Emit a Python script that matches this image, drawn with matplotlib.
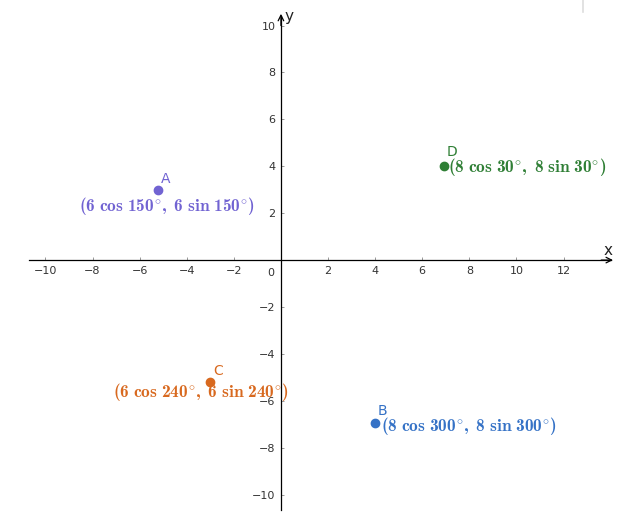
import matplotlib.pyplot as plt

plt.rcParams['mathtext.fontset'] = 'custom'
plt.rcParams['mathtext.rm'] = 'cmb10'
plt.rcParams['mathtext.bf'] = 'cmb10'
plt.rcParams['mathtext.it'] = 'cmb10'
plt.rcParams['mathtext.fallback'] = 'cm'

# points
names = ['A', 'B', 'C', 'D']
xs = [-5.2, 4.0, -3.0, 6.93]
ys = [3.0, -6.93, -5.2, 4.0]
labels = [r'$\mathrm{(6\ cos\ 150^{\circ},\ 6\ sin\ 150^{\circ})}$',
          r'$\mathrm{(8\ cos\ 300^{\circ},\ 8\ sin\ 300^{\circ})}$',
          r'$\mathrm{(6\ cos\ 240^{\circ},\ 6\ sin\ 240^{\circ})}$',
          r'$\mathrm{(8\ cos\ 30^{\circ},\ 8\ sin\ 30^{\circ})}$']
colors = ['#7163d2', '#3572c6', '#d8691f', '#2f7f35']
# label offsets in pixels (letter, coordinate text)
name_off = [(7, 11), (7, 12), (8, 11), (8, 14)]
label_off = [(-79, -16), (6, -3), (-97, -10), (4, -1)]

xticks = [-10, -8, -6, -4, -2, 2, 4, 6, 8, 10, 12]
yticks = [-10, -8, -6, -4, -2, 2, 4, 6, 8, 10]

fig = plt.figure(figsize=(6.21, 5.15), dpi=100)
ax = fig.add_axes([0, 0, 1, 1])
ax.set_xlim(-11.93, 14.44)
ax.set_ylim(-10.87, 11.09)

for side in ['top', 'right']:
    ax.spines[side].set_visible(False)
ax.spines['left'].set_position(('data', 0))
ax.spines['bottom'].set_position(('data', 0))
ax.spines['left'].set_bounds(-10.66, 10.4)
ax.spines['bottom'].set_bounds(-10.7, 14.0)
for side in ['left', 'bottom']:
    ax.spines[side].set_linewidth(0.9)

ax.set_xticks(xticks)
ax.set_yticks(yticks)
ax.set_xticklabels([str(t).replace('-', '\u2212') for t in xticks])
ax.set_yticklabels([str(t).replace('-', '\u2212') for t in yticks])
ax.tick_params(axis='both', direction='in', length=2, width=0.6, color='#888888',
               labelsize=8, labelcolor='#333333')
ax.tick_params(axis='x', pad=4)
ax.tick_params(axis='y', pad=4)
ax.text(-0.3, -0.35, '0', fontsize=8, color='#333333', ha='right', va='top')

# arrow heads
ax.annotate('', xy=(14.1, 0), xytext=(13.6, 0),
            arrowprops=dict(arrowstyle='->', lw=0.9, color='black', shrinkA=0, shrinkB=0))
ax.annotate('', xy=(0, 10.5), xytext=(0, 10.0),
            arrowprops=dict(arrowstyle='->', lw=0.9, color='black', shrinkA=0, shrinkB=0))
ax.text(13.9, 0.1, 'x', fontsize=11, color='#222222', ha='center', va='bottom')
ax.text(0.15, 10.4, 'y', fontsize=11, color='#222222', ha='left', va='center')

for i in range(len(names)):
    ax.plot(xs[i], ys[i], 'o', ms=6, color=colors[i], zorder=5)
    ax.annotate(names[i], (xs[i], ys[i]), xytext=name_off[i], textcoords='offset pixels',
                fontsize=10, color=colors[i], ha='center', va='center')
    ax.annotate(labels[i], (xs[i], ys[i]), xytext=label_off[i], textcoords='offset pixels',
                fontsize=12.5, color=colors[i], ha='left', va='center')

# faint screenshot edge at top right
fig.add_artist(plt.Line2D([0.939, 0.939], [0.977, 1.0], color='#dddddd', lw=1.2))

fig.savefig('out.png', dpi=100)
